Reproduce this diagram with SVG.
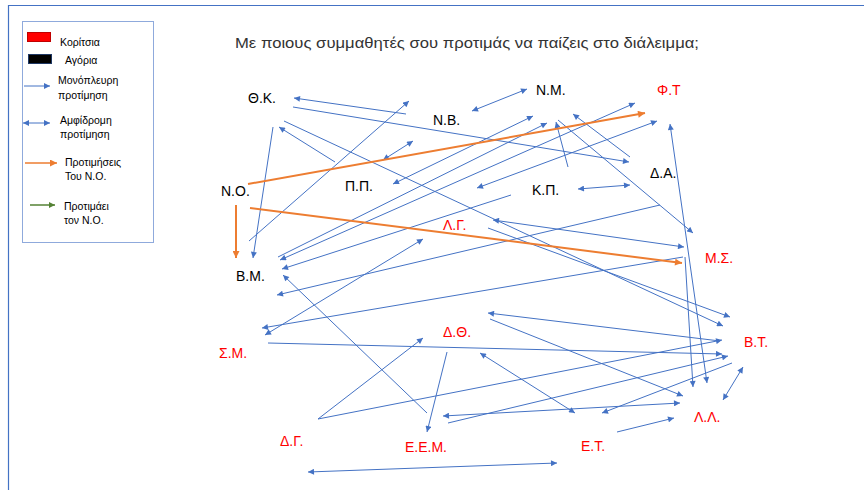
<svg xmlns="http://www.w3.org/2000/svg" width="864" height="490" viewBox="0 0 864 490">
<defs>
<style>
.lbl{font-family:"Liberation Sans",Arial,sans-serif;font-size:14px;fill:#000}
.red{fill:#FF0000}
.leg{font-family:"Liberation Sans",Arial,sans-serif;font-size:10.5px;fill:#000}
.c{stroke:#4472C4;stroke-width:1;fill:none;marker-end:url(#ab)}
.d{stroke:#4472C4;stroke-width:1;fill:none;marker-start:url(#ab);marker-end:url(#ab)}
.o{stroke:#ED7D31;stroke-width:2;fill:none;marker-end:url(#ao)}
</style>
<marker id="ab" viewBox="0 0 10 10" refX="10" refY="5" markerWidth="7" markerHeight="6" markerUnits="userSpaceOnUse" orient="auto-start-reverse"><path d="M0,0 L10,5 L0,10 z" fill="#4472C4"/></marker>
<marker id="ao" viewBox="0 0 10 10" refX="10" refY="5" markerWidth="8" markerHeight="7" markerUnits="userSpaceOnUse" orient="auto-start-reverse"><path d="M0,0 L10,5 L0,10 z" fill="#ED7D31"/></marker>
<marker id="ag" viewBox="0 0 10 10" refX="10" refY="5" markerWidth="7" markerHeight="6" markerUnits="userSpaceOnUse" orient="auto"><path d="M0,0 L10,5 L0,10 z" fill="#548235"/></marker>
</defs>
<rect width="864" height="490" fill="#fff"/>
<path d="M8.5,490 L8.5,5.5 L864,5.5" fill="none" stroke="#4472C4" stroke-width="1.2"/>

<g id="legend">
<rect x="22.5" y="21.5" width="131" height="221" fill="none" stroke="#8FAADC" stroke-width="1"/>
<rect x="27.5" y="32.5" width="23" height="9" fill="#FF0000" stroke="#C00000" stroke-width="1"/>
<text class="leg" x="60" y="46">Κορίτσια</text>
<rect x="28.5" y="54.5" width="23" height="9" fill="#000" stroke="#1F3864" stroke-width="1"/>
<text class="leg" x="65" y="64">Αγόρια</text>
<line x1="24" y1="86" x2="50" y2="86" stroke="#4472C4" stroke-width="1" marker-end="url(#ab)"/>
<text class="leg" x="58" y="84">Μονόπλευρη</text>
<text class="leg" x="58" y="99">προτίμηση</text>
<line x1="23" y1="123" x2="50" y2="123" stroke="#4472C4" stroke-width="1" marker-start="url(#ab)" marker-end="url(#ab)"/>
<text class="leg" x="60" y="124">Αμφίδρομη</text>
<text class="leg" x="60" y="138">προτίμηση</text>
<line x1="25" y1="163" x2="57" y2="163" stroke="#ED7D31" stroke-width="1.5" marker-end="url(#ao)"/>
<text class="leg" x="65" y="166">Προτιμήσεις</text>
<text class="leg" x="65" y="180">Του Ν.Ο.</text>
<line x1="30" y1="205" x2="55" y2="205" stroke="#548235" stroke-width="1.5" marker-end="url(#ag)"/>
<text class="leg" x="64" y="210">Προτιμάει</text>
<text class="leg" x="64" y="224">τον Ν.Ο.</text>
</g>

<text id="title" x="235" y="48" font-family="'Liberation Sans',Arial,sans-serif" font-size="14.5" fill="#333" textLength="464" lengthAdjust="spacingAndGlyphs">Με ποιους συμμαθητές σου προτιμάς να παίζεις στο διάλειμμα;</text>

<g id="connectors">
<path class="c" d="M406,114 L294,98"/>
<path class="c" d="M293,107 L629,162"/>
<path class="c" d="M284,121 L723,326"/>
<path class="c" d="M273,127 L253,258"/>
<path class="c" d="M335,162 L279,127"/>
<path class="c" d="M249,241 L409,101"/>
<path class="c" d="M278,257 L547,123"/>
<path class="c" d="M568,167 L556,122"/>
<path class="c" d="M630,157 L573,114"/>
<path class="c" d="M558,120 L693,233"/>
<path class="c" d="M511,195 L282,269"/>
<path class="c" d="M660,205 L277,295"/>
<path class="c" d="M488,228 L730,317"/>
<path class="c" d="M683,257 L262,328"/>
<path class="c" d="M685,257 L693,387"/>
<path class="c" d="M268,343 L722,354"/>
<path class="c" d="M427,413 L283,275"/>
<path class="c" d="M318,419 L423,338"/>
<path class="c" d="M318,419 L722,340"/>
<path class="c" d="M720,341 L488,313"/>
<path class="c" d="M490,319 L683,396"/>
<path class="c" d="M447,352 L427,432"/>
<path class="c" d="M448,423 L728,356"/>
<path class="c" d="M732,363 L602,413"/>
<path class="c" d="M617,432 L674,418"/>
<path class="d" d="M383,160 L413,141"/>
<path class="d" d="M472,111 L527,89"/>
<path class="d" d="M393,184 L533,116"/>
<path class="d" d="M280,260 L635,103"/>
<path class="d" d="M477,188 L657,121"/>
<path class="d" d="M578,189 L630,185"/>
<path class="d" d="M670,124 L707,383"/>
<path class="d" d="M493,220 L684,247"/>
<path class="d" d="M265,335 L423,239"/>
<path class="d" d="M480,353 L575,413"/>
<path class="d" d="M443,416 L680,403"/>
<path class="d" d="M723,400 L743,367"/>
<path class="d" d="M308,472 L557,463"/>
<path class="o" d="M248,184 L645,113"/>
<path class="o" d="M236,205 L236,258"/>
<path class="o" d="M250,208 L682,263"/>
</g>

<g id="n-TK"><text class="lbl" x="248" y="103">Θ.Κ.</text></g>
<g id="n-NB"><text class="lbl" x="433" y="125">Ν.Β.</text></g>
<g id="n-NM"><text class="lbl" x="536" y="95">Ν.Μ.</text></g>
<g id="n-FT"><text class="lbl red" x="657" y="95">Φ.Τ</text></g>
<g id="n-DA"><text class="lbl" x="650" y="178">Δ.Α.</text></g>
<g id="n-NO"><text class="lbl" x="221" y="196">Ν.Ο.</text></g>
<g id="n-PP"><text class="lbl" x="345" y="191">Π.Π.</text></g>
<g id="n-KP"><text class="lbl" x="532" y="195">Κ.Π.</text></g>
<g id="n-LG"><text class="lbl red" x="443" y="230">Λ.Γ.</text></g>
<g id="n-MS"><text class="lbl red" x="705" y="263">Μ.Σ.</text></g>
<g id="n-BM"><text class="lbl" x="236" y="281">Β.Μ.</text></g>
<g id="n-SM"><text class="lbl red" x="219" y="358">Σ.Μ.</text></g>
<g id="n-DTh"><text class="lbl red" x="443" y="337">Δ.Θ.</text></g>
<g id="n-BT"><text class="lbl red" x="744" y="347">Β.Τ.</text></g>
<g id="n-LL"><text class="lbl red" x="694" y="422">Λ.Λ.</text></g>
<g id="n-DG"><text class="lbl red" x="280" y="446">Δ.Γ.</text></g>
<g id="n-EEM"><text class="lbl red" x="405" y="452">Ε.Ε.Μ.</text></g>
<g id="n-ET"><text class="lbl red" x="581" y="451">Ε.Τ.</text></g>
</svg>
